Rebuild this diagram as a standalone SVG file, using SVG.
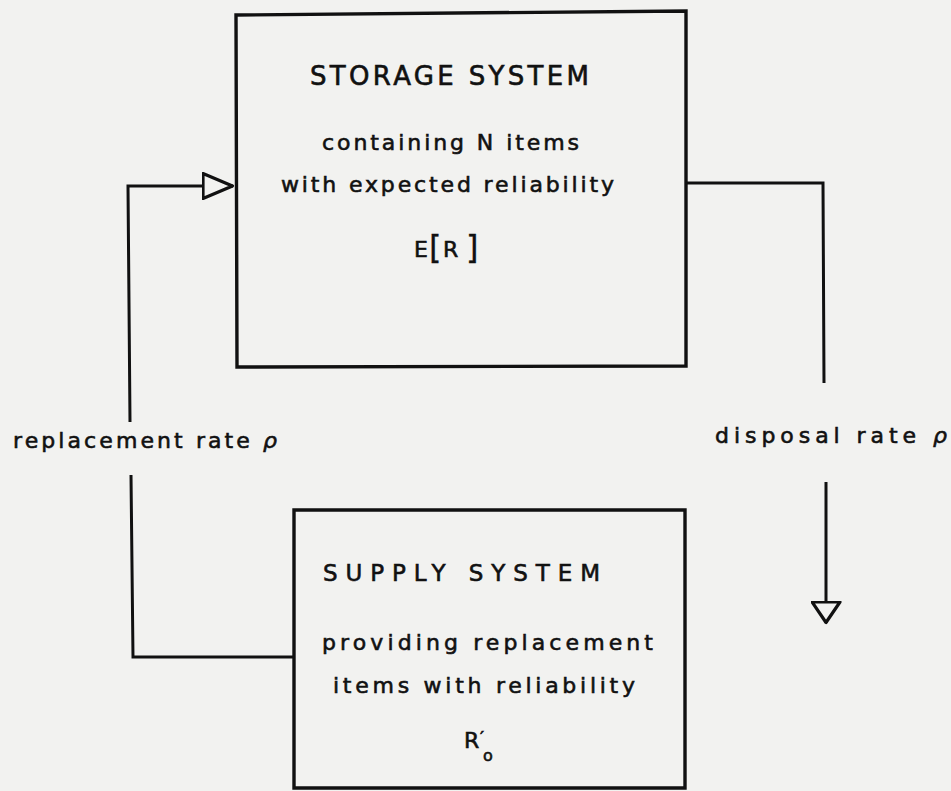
<svg xmlns="http://www.w3.org/2000/svg" width="951" height="791" viewBox="0 0 951 791">
<style>
.box{fill:none;stroke:#111;stroke-width:3.4;stroke-linejoin:miter}
.ln{fill:none;stroke:#111;stroke-width:3}
.t{font-family:"DejaVu Sans","Liberation Sans",sans-serif;fill:#111;stroke:#111;stroke-width:0.6;font-size:22px}
.big{font-size:26px}
.mid{font-size:23px}
.brk{font-size:32px;stroke-width:0.3}
</style>
<defs>
<marker id="arrR" markerUnits="userSpaceOnUse" viewBox="0 0 33 28" refX="31.5" refY="14" markerWidth="33" markerHeight="28" orient="auto">
<path d="M1.5,1.5 L31,14 L1.5,26.5 Z" fill="#f2f2f0" stroke="#111" stroke-width="3.2" stroke-linejoin="round"/>
</marker>
<marker id="arrD" markerUnits="userSpaceOnUse" viewBox="0 0 24 31" refX="22.5" refY="15.5" markerWidth="24" markerHeight="31" orient="auto">
<path d="M1.5,1.5 L22,15.5 L1.5,29.5 Z" fill="#f2f2f0" stroke="#111" stroke-width="3.2" stroke-linejoin="round"/>
</marker>
</defs>
<rect x="0" y="0" width="951" height="791" fill="#f2f2f0"/>
<g id="connectors">
<path class="ln" d="M130,422 L128,186 L233,186" marker-end="url(#arrR)"/>
<path class="ln" d="M131,475 L133,657 L294,657"/>
<path class="ln" d="M686,183 L823,183 L824,383"/>
<path class="ln" d="M826,482 L826,623" marker-end="url(#arrD)"/>
</g>
<g id="storage">
<path class="box" d="M236,15 L686,11 L686,366 L237,367 Z"/>
<text class="t big" x="310" y="85" textLength="279" lengthAdjust="spacing">STORAGE SYSTEM</text>
<text class="t" x="322" y="150" textLength="257" lengthAdjust="spacing">containing N items</text>
<text class="t" x="281" y="192" textLength="333" lengthAdjust="spacing">with expected reliability</text>
<text class="t" x="414" y="257">E<tspan class="brk" x="429" y="258">[</tspan><tspan x="443" y="257">R</tspan><tspan class="brk" x="466" y="258">]</tspan></text>
</g>
<g id="supply">
<path class="box" d="M294,510 L685,510 L685,788 L294,788 Z"/>
<text class="t mid" x="323" y="581" textLength="277" lengthAdjust="spacing">SUPPLY SYSTEM</text>
<text class="t" x="322" y="650" textLength="331" lengthAdjust="spacing">providing replacement</text>
<text class="t" x="333" y="693" textLength="302" lengthAdjust="spacing">items with reliability</text>
<text class="t" x="464" y="748">R<tspan x="480" y="744" style="font-size:18px">′</tspan><tspan x="483" y="761" style="font-size:16px">o</tspan></text>
</g>
<g id="label-replacement">
<text class="t" x="13" y="448" textLength="264" lengthAdjust="spacing">replacement rate <tspan font-style="italic">ρ</tspan></text>
</g>
<g id="label-disposal">
<text class="t" x="715" y="443" textLength="232" lengthAdjust="spacing">disposal rate <tspan font-style="italic">ρ</tspan></text>
</g>
</svg>
